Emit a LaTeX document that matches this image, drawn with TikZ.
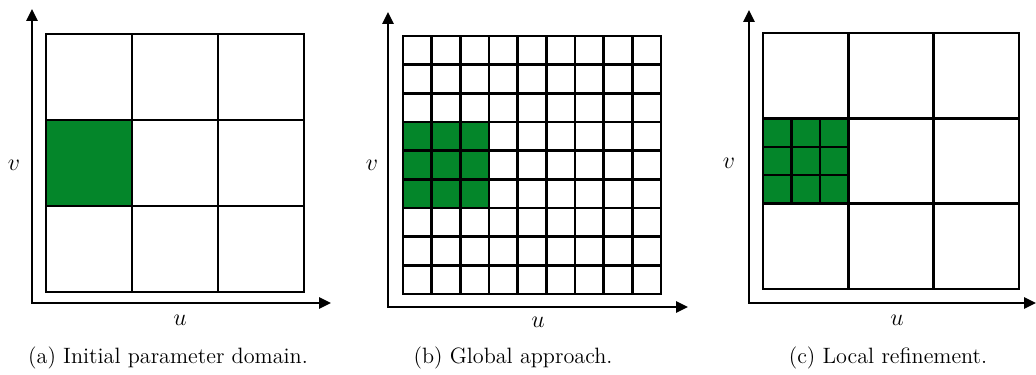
\documentclass[tikz,border=0pt]{standalone}
\usepackage{tikz}
\usetikzlibrary{arrows.meta}
\definecolor{cellgreen}{RGB}{4,134,42}
\tikzset{
  gridline/.style={line width=1.2pt, line cap=rect, black},
  axis/.style={{Triangle[length=6pt,width=5.5pt]}-{Triangle[length=6pt,width=5.5pt]}, line width=1.3pt},
  refined/.style={fill=cellgreen},
  axislabel/.style={font=\large, inner sep=0pt},
  caption/.style={font=\fontsize{11.1}{13}\selectfont, inner sep=0pt}
}

\begin{document}
\begin{tikzpicture}[x=0.5pt,y=-0.5pt]
  \useasboundingbox (0,0) rectangle (1036,374);

  % (a) initial parameter domain, 3x3
  \coordinate (vtipA) at (32,9);
  \coordinate (origA) at (32,303);
  \coordinate (utipA) at (331,303);
  \fill[refined] (46,120) rectangle (132,206);
  \foreach \i in {0,...,3} {
    \draw[gridline] (46+86*\i,34) -- (46+86*\i,292);
    \draw[gridline] (46,34+86*\i) -- (304,34+86*\i);
  }
  \draw[axis] (vtipA) -- (origA) -- (utipA);
  \node[axislabel] (vA) at (14,165) {$v$};
  \node[axislabel] (uA) at (180,320) {$u$};
  \node[caption] (capA) at (168,358) {(a) Initial parameter domain.};

  % (b) global approach, 9x9
  \coordinate (vtipB) at (388,12);
  \coordinate (origB) at (388,307);
  \coordinate (utipB) at (688,307);
  \fill[refined] (403,122) rectangle (489,208);
  \foreach \i in {0,...,9} {
    \draw[gridline] (403+28.667*\i,36) -- (403+28.667*\i,294);
    \draw[gridline] (403,36+28.667*\i) -- (661,36+28.667*\i);
  }
  \draw[axis] (vtipB) -- (origB) -- (utipB);
  \node[axislabel] (vB) at (372,165) {$v$};
  \node[axislabel] (uB) at (538,322) {$u$};
  \node[caption] (capB) at (513,358) {(b) Global approach.};

  % (c) local refinement of one cell
  \coordinate (vtipC) at (749,10);
  \coordinate (origC) at (749,303);
  \coordinate (utipC) at (1036,303);
  \fill[refined] (763,118.33) rectangle (848.33,203.67);
  \foreach \i in {0,...,3} {
    \draw[gridline] (763+85.33*\i,33) -- (763+85.33*\i,289);
    \draw[gridline] (763,33+85.33*\i) -- (1019,33+85.33*\i);
  }
  \foreach \i in {1,2} {
    \draw[gridline] (763+28.44*\i,118.33) -- (763+28.44*\i,203.67);
    \draw[gridline] (763,118.33+28.44*\i) -- (848.33,118.33+28.44*\i);
  }
  \draw[axis] (vtipC) -- (origC) -- (utipC);
  \node[axislabel] (vC) at (729,163) {$v$};
  \node[axislabel] (uC) at (897,320) {$u$};
  \node[caption] (capC) at (888,358) {(c) Local refinement.};
\end{tikzpicture}
\end{document}
